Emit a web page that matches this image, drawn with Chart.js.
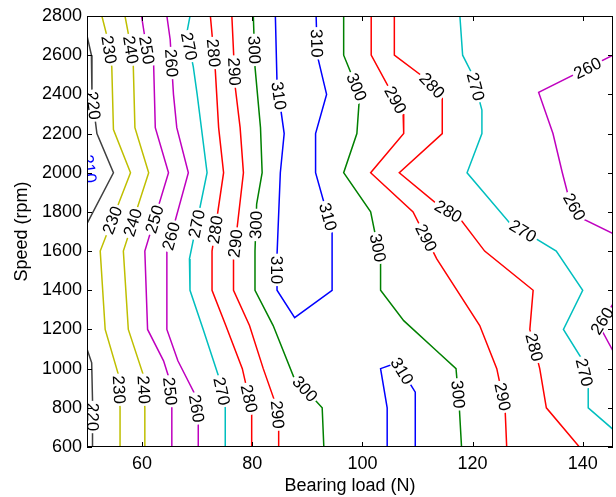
<!DOCTYPE html>
<html>
<head>
<meta charset="utf-8">
<script src="https://cdn.jsdelivr.net/npm/chart.js@4/dist/chart.umd.min.js"></script>
<style>
  html, body { margin: 0; padding: 0; background: #fff; }
  #wrap { width: 616px; height: 497px; }
</style>
</head>
<body>
<div id="wrap"><canvas id="myChart" width="616" height="497"></canvas></div>
<script>
// axis ticks
const xTicks = [60, 80, 100, 120, 140];
const yTicks = [600, 800, 1000, 1200, 1400, 1600, 1800, 2000, 2200, 2400, 2600, 2800];

// contour lines, points are [bearing load N, speed rpm]
const c210 = [[50, 2100], [50.4, 2020], [50, 1940]];
const c220a = [[50, 2700], [50.8, 2600], [50.9, 2400], [51.8, 2200], [54.8, 2000], [50, 1740]];
const c220b = [[50, 1100], [50.85, 1030], [51, 840], [51, 600]];
const c230 = [[52.7, 2800], [53.6, 2700], [54.5, 2540], [54.8, 2220], [57.9, 2000], [52.4, 1600], [53.3, 1200], [55.7, 970], [56, 800], [56, 600]];
const c240 = [[56.9, 2800], [57.5, 2710], [58.4, 2550], [58.7, 2230], [61.2, 2000], [56.6, 1600], [57.5, 1200], [60.2, 970], [60.5, 800], [60.5, 600]];
const c250 = [[59.9, 2800], [60.9, 2620], [62.1, 2550], [62.4, 2230], [64.8, 2000], [60.5, 1600], [61, 1200], [63.9, 1040], [64.8, 960], [65.4, 800], [65.4, 600]];
const c260 = [[64.5, 2800], [65.1, 2680], [65.7, 2400], [66.3, 2230], [68.4, 2000], [64.5, 1600], [64.5, 1200], [66.5, 1040], [69.4, 880], [70.2, 750], [70.2, 600]];
const c270 = [[68.7, 2800], [68.1, 2710], [69.3, 2540], [70, 2400], [71.8, 2000], [68.6, 1560], [68.7, 1400], [71.1, 1200], [73.9, 960], [75.1, 800], [75.1, 600]];
const c280 = [[72.4, 2800], [73.3, 2520], [73.9, 2230], [74.8, 2000], [72.7, 1600], [72.7, 1400], [75.2, 1220], [78.2, 1000], [79.9, 790], [79.9, 600]];
const c290 = [[76.3, 2800], [76.9, 2440], [77.8, 2230], [78.4, 2000], [76.6, 1560], [76.6, 1400], [79.5, 1220], [82, 1000], [84.5, 800], [84.8, 700], [84.8, 600]];
const c300a = [[80.2, 2800], [80.5, 2540], [81.5, 2230], [81.8, 2000], [80.8, 1840], [80.5, 1600], [80.5, 1400], [83.8, 1220], [87.5, 960], [92.7, 800], [93, 600]];
const c310a = [[84.2, 2800], [84.5, 2460], [85.8, 2200], [85.1, 2000], [84.5, 1580], [84.5, 1400], [87.7, 1260], [94.5, 1400], [94.5, 1700], [91.5, 2000], [91.5, 2200], [93.5, 2400], [91.8, 2600], [91.6, 2800]];
const c310b = [[104.5, 600], [104.5, 800], [103.3, 1000], [106.3, 1030], [109.6, 880], [109.6, 600]];
const c300b = [[96.6, 2800], [96.6, 2600], [99.5, 2400], [99, 2200], [96.6, 2000], [101.5, 1800], [103.3, 1550], [103.3, 1400], [107.5, 1245], [113.5, 1090], [117, 1000], [117.6, 800], [118, 600]];
const c290b = [[101.6, 2800], [101.6, 2600], [107.4, 2300], [107.5, 2200], [101.5, 2000], [109.2, 1800], [113.5, 1560], [121.3, 1220], [124.4, 1000], [125.9, 800], [126.2, 600]];
const c280b = [[105.8, 2800], [105.8, 2600], [111.5, 2480], [114.5, 2390], [114.5, 2200], [106.7, 2000], [114, 1830], [117.6, 1770], [122.2, 1600], [131, 1400], [130.4, 1200], [132.2, 1000], [133.4, 800], [139.4, 600]];
const c270b = [[117.7, 2800], [118.2, 2600], [120, 2500], [121.7, 2320], [121.7, 2200], [119, 2000], [126.7, 1745], [135.2, 1600], [140, 1400], [136.5, 1200], [139.6, 1060], [141, 900], [141, 800], [145.5, 690]];
const c260b = [[145.5, 2600], [132, 2410], [134.6, 2200], [136.3, 2000], [137.4, 1880], [139.6, 1770], [145.5, 1690]];
const c260c = [[145.5, 1330], [143, 1220], [145.5, 1090]];

// where the level labels sit, [bearing load N, speed rpm]
const l210 = [[50.3, 2020]];
const l220a = [[50.5, 2340]];
const l220b = [[50.85, 753]];
const l230 = [[53.6, 2626], [54.5, 1759], [54.8, 891]];
const l240 = [[57.6, 2626], [58.7, 1742], [59.3, 891]];
const l250 = [[60.9, 2626], [62.7, 1759], [64.2, 882]];
const l260 = [[64.8, 2559], [65.7, 1673], [69.5, 795]];
const l270 = [[68.1, 2643], [69.8, 1740], [73.9, 882]];
const l280 = [[72.4, 2610], [73.6, 1708], [78.4, 840]];
const l290 = [[76.6, 2516], [76.9, 1639], [83.6, 763]];
const l300a = [[79.6, 2626], [81.1, 1733], [89, 882]];
const l310a = [[83.6, 2388], [83.9, 1504], [92.7, 1767], [91.9, 2661]];
const l310b = [[107.5, 993]];
const l300b = [[98.4, 2431], [102.4, 1614], [116.3, 866]];
const l290b = [[106, 2371], [110.8, 1657], [124.2, 849]];
const l280b = [[112.4, 2439], [115.4, 1793], [130.5, 1104]];
const l270b = [[120.5, 2439], [128.7, 1682], [139.6, 976]];
const l260b = [[141.2, 2516], [137.5, 1810]];
const l260c = [[144.2, 1231]];

const pieces = [
  { level: 210, pts: c210, labels: l210 },
  { level: 220, pts: c220a, labels: l220a },
  { level: 220, pts: c220b, labels: l220b },
  { level: 230, pts: c230, labels: l230 },
  { level: 240, pts: c240, labels: l240 },
  { level: 250, pts: c250, labels: l250 },
  { level: 260, pts: c260, labels: l260 },
  { level: 270, pts: c270, labels: l270 },
  { level: 280, pts: c280, labels: l280 },
  { level: 290, pts: c290, labels: l290 },
  { level: 300, pts: c300a, labels: l300a },
  { level: 310, pts: c310a, labels: l310a },
  { level: 310, pts: c310b, labels: l310b },
  { level: 300, pts: c300b, labels: l300b },
  { level: 290, pts: c290b, labels: l290b },
  { level: 280, pts: c280b, labels: l280b },
  { level: 270, pts: c270b, labels: l270b },
  { level: 260, pts: c260b, labels: l260b },
  { level: 260, pts: c260c, labels: l260c }
];

const levelColor = {
  210: '#0000ff', 220: '#404040', 230: '#bfbf00', 240: '#bfbf00',
  250: '#bf00bf', 260: '#bf00bf', 270: '#00bfbf', 280: '#ff0000',
  290: '#ff0000', 300: '#008000', 310: '#0000ff'
};

const FONT = '"Liberation Sans", Arial, Helvetica, sans-serif';

// labels, frame and inward ticks like the matlab plot
const contourDecor = {
  id: 'contourDecor',
  afterDatasetsDraw(chart) {
    const { ctx, chartArea: a, scales: { x, y } } = chart;
    ctx.save();
    ctx.beginPath();
    ctx.rect(a.left, a.top, a.right - a.left, a.bottom - a.top);
    ctx.clip();
    ctx.font = '17px ' + FONT;
    ctx.textAlign = 'center';
    ctx.textBaseline = 'middle';
    pieces.forEach(p => {
      const px = p.pts.map(([vx, vy]) => [x.getPixelForValue(vx), y.getPixelForValue(vy)]);
      p.labels.forEach(([lx, ly]) => {
        const qx = x.getPixelForValue(lx), qy = y.getPixelForValue(ly);
        let best = null;
        for (let i = 0; i < px.length - 1; i++) {
          const [x1, y1] = px[i], [x2, y2] = px[i + 1];
          const dx = x2 - x1, dy = y2 - y1, len = dx * dx + dy * dy;
          let t = len ? ((qx - x1) * dx + (qy - y1) * dy) / len : 0;
          t = Math.max(0, Math.min(1, t));
          const cx = x1 + t * dx, cy = y1 + t * dy;
          const d = (cx - qx) ** 2 + (cy - qy) ** 2;
          if (!best || d < best.d) best = { d, cx, cy, dx, dy };
        }
        let ang = Math.atan2(best.dy, best.dx);
        if (ang > Math.PI / 2 + 1e-6) ang -= Math.PI;
        if (ang <= -Math.PI / 2 - 1e-6) ang += Math.PI;
        const txt = String(p.level);
        const w = ctx.measureText(txt).width;
        ctx.save();
        ctx.translate(best.cx, best.cy);
        ctx.rotate(ang);
        ctx.fillStyle = '#fff';
        ctx.fillRect(-w / 2 - 2, -7, w + 4, 14);
        ctx.fillStyle = p.level === 210 ? '#0000ff' : '#000';
        ctx.fillText(txt, 0, 1);
        ctx.restore();
      });
    });
    ctx.restore();

    ctx.save();
    ctx.strokeStyle = '#000';
    ctx.lineWidth = 1;
    ctx.strokeRect(a.left + 0.5, a.top + 0.5, a.right - a.left - 1, a.bottom - a.top - 1);
    ctx.beginPath();
    xTicks.forEach(v => {
      const p = Math.round(x.getPixelForValue(v)) + 0.5;
      ctx.moveTo(p, a.bottom); ctx.lineTo(p, a.bottom - 5);
      ctx.moveTo(p, a.top); ctx.lineTo(p, a.top + 5);
    });
    yTicks.forEach(v => {
      const p = Math.round(y.getPixelForValue(v)) + 0.5;
      ctx.moveTo(a.left, p); ctx.lineTo(a.left + 5, p);
      ctx.moveTo(a.right, p); ctx.lineTo(a.right - 5, p);
    });
    ctx.stroke();
    ctx.restore();
  }
};

new Chart(document.getElementById('myChart').getContext('2d'), {
  type: 'scatter',
  data: {
    datasets: pieces.map(p => ({
      label: String(p.level),
      data: p.pts.map(([vx, vy]) => ({ x: vx, y: vy })),
      showLine: true,
      fill: false,
      borderColor: levelColor[p.level],
      borderWidth: 1.5,
      pointRadius: 0,
      tension: 0
    }))
  },
  options: {
    responsive: false,
    animation: false,
    devicePixelRatio: 1,
    layout: { padding: { left: 0, right: 3, top: 16, bottom: 0 } },
    plugins: { legend: { display: false }, tooltip: { enabled: false } },
    scales: {
      x: {
        type: 'linear',
        min: 50,
        max: 145.5,
        afterBuildTicks: s => { s.ticks = xTicks.map(v => ({ value: v })); },
        afterFit: s => { s.height = 50; },
        grid: { display: false, drawTicks: false },
        border: { display: false },
        ticks: { color: '#000', padding: 6, maxRotation: 0, font: { family: FONT, size: 18 }, callback: v => String(v) },
        title: { display: true, text: 'Bearing load (N)', color: '#000', padding: { top: 0, bottom: 0 }, font: { family: FONT, size: 18 } }
      },
      y: {
        type: 'linear',
        min: 600,
        max: 2800,
        afterBuildTicks: s => { s.ticks = yTicks.map(v => ({ value: v })); },
        afterFit: s => { s.width = 87; },
        grid: { display: false, drawTicks: false },
        border: { display: false },
        ticks: { color: '#000', padding: 5, font: { family: FONT, size: 18 }, callback: v => String(v) },
        title: { display: true, text: 'Speed (rpm)', color: '#000', padding: { top: 11, bottom: 0 }, font: { family: FONT, size: 18 } }
      }
    }
  },
  plugins: [contourDecor]
});
</script>
</body>
</html>
